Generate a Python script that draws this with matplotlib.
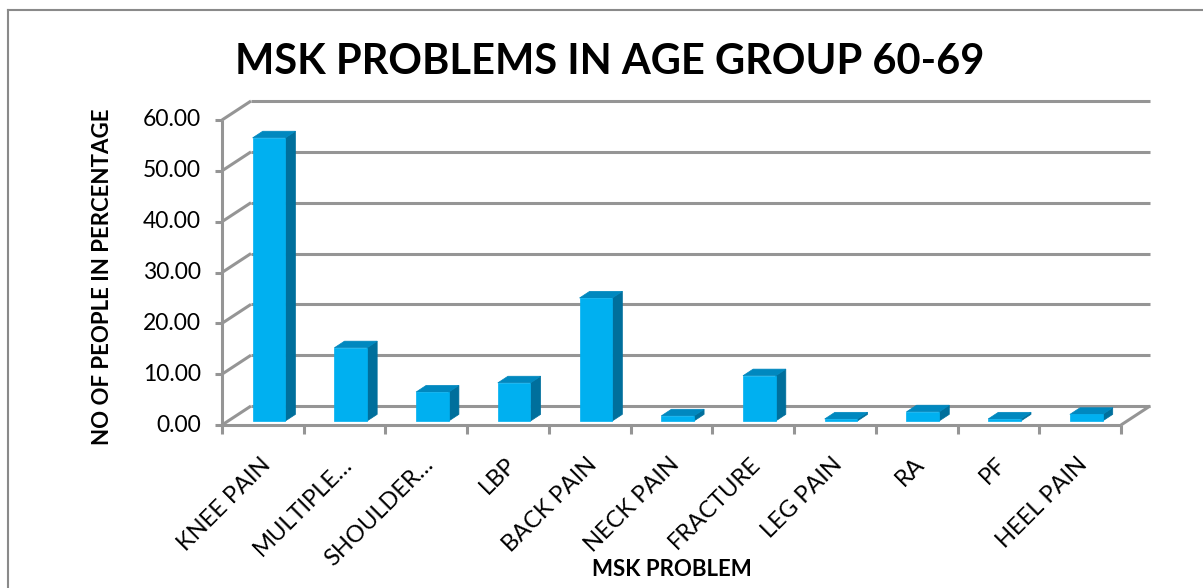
import matplotlib
matplotlib.use("Agg")
import matplotlib.pyplot as plt
from matplotlib.patches import Polygon

categories = ["KNEE PAIN", "MULTIPLE…", "SHOULDER…", "LBP", "BACK PAIN",
              "NECK PAIN", "FRACTURE", "LEG PAIN", "RA", "PF", "HEEL PAIN"]
values = [55.7, 14.4, 5.7, 7.5, 24.2, 1.0, 8.9, 0.4, 1.8, 0.4, 1.3]
y_ticks = [0, 10, 20, 30, 40, 50, 60]

FONT = "Lato"
GRID = "#959595"
FRONT, TOP, SIDE = "#00B0F0", "#0088BF", "#006F9C"

W, H = 1203, 588
fig = plt.figure(figsize=(W / 100, H / 100), dpi=100)

# front plane of the 3-d plot area, in pixels
x0, x1 = 222, 1121
y_base, y_top = 425, 120
ax = fig.add_axes([x0 / W, 1 - y_base / H, (x1 - x0) / W, (y_base - y_top) / H])
n = len(categories)
ax.set_xlim(-0.5, n - 0.5)
ax.set_ylim(0, y_ticks[-1])
ax.axis("off")

px_x = (x1 - x0) / n
px_y = (y_base - y_top) / y_ticks[-1]
# floor depth (oblique projection) in data units
DX, DY = 29 / px_x, 19 / px_y

line_kw = dict(color=GRID, lw=2.2, clip_on=False, solid_capstyle="butt")

# side wall diagonals + back wall gridlines
for v in y_ticks:
    ax.plot([-0.5, -0.5 + DX], [v, v + DY], **line_kw)
    ax.plot([-0.5 + DX, n - 0.5 + DX], [v + DY, v + DY], **line_kw)
    ax.plot([-0.5 - 7 / px_x, -0.5], [v, v], **line_kw)
    ax.text(-0.5 - 21 / px_x, v, f"{v:.2f}", ha="right", va="center",
            fontsize=16.5, family=FONT)

# value axis and floor
ax.plot([-0.5, -0.5], [0, y_ticks[-1]], **line_kw)
ax.plot([-0.5, n - 0.5], [0, 0], **line_kw)
ax.plot([n - 0.5, n - 0.5 + DX], [0, DY], **line_kw)
for b in range(n + 1):
    ax.plot([b - 0.5, b - 0.5], [0, -9 / px_y], **line_kw)

# 3-d bars
f0, f1, w = 0.21, 0.56, 0.40
d, e = (f1 - f0) * DX, (f1 - f0) * DY
for i, v in enumerate(values):
    xl = i - w / 2 + f0 * DX
    yb = f0 * DY
    front = [(xl, yb), (xl + w, yb), (xl + w, yb + v), (xl, yb + v)]
    top = [(xl, yb + v), (xl + w, yb + v), (xl + w + d, yb + v + e), (xl + d, yb + v + e)]
    side = [(xl + w, yb), (xl + w + d, yb + e), (xl + w + d, yb + v + e), (xl + w, yb + v)]
    for pts, col in ((side, SIDE), (top, TOP), (front, FRONT)):
        ax.add_patch(Polygon(pts, closed=True, facecolor=col, edgecolor=col,
                             lw=0.5, clip_on=False, zorder=3))

# category labels
for i, name in enumerate(categories):
    ax.text(i + 4 / px_x, -36 / px_y, name, rotation=45, rotation_mode="anchor",
            ha="right", va="center", fontsize=17, family=FONT)

fig.text(610 / W, 1 - 62 / H, "MSK PROBLEMS IN AGE GROUP 60-69", ha="center",
         va="center", fontsize=30, fontweight="bold", family=FONT)
fig.text(103 / W, 1 - 277 / H, "NO OF PEOPLE IN PERCENTAGE", rotation=90,
         ha="center", va="center", fontsize=16, fontweight="bold", family=FONT)
fig.text(672 / W, 1 - 570 / H, "MSK PROBLEM", ha="center", va="center",
         fontsize=16, fontweight="bold", family=FONT)

# chart frame
fig.add_artist(plt.Line2D([8 / W, 8 / W], [0, 1 - 10 / H], color="#8A8A8A", lw=1.5))
fig.add_artist(plt.Line2D([8 / W, 1], [1 - 10 / H, 1 - 10 / H], color="#8A8A8A", lw=1.5))

fig.savefig("out.png", dpi=100)
